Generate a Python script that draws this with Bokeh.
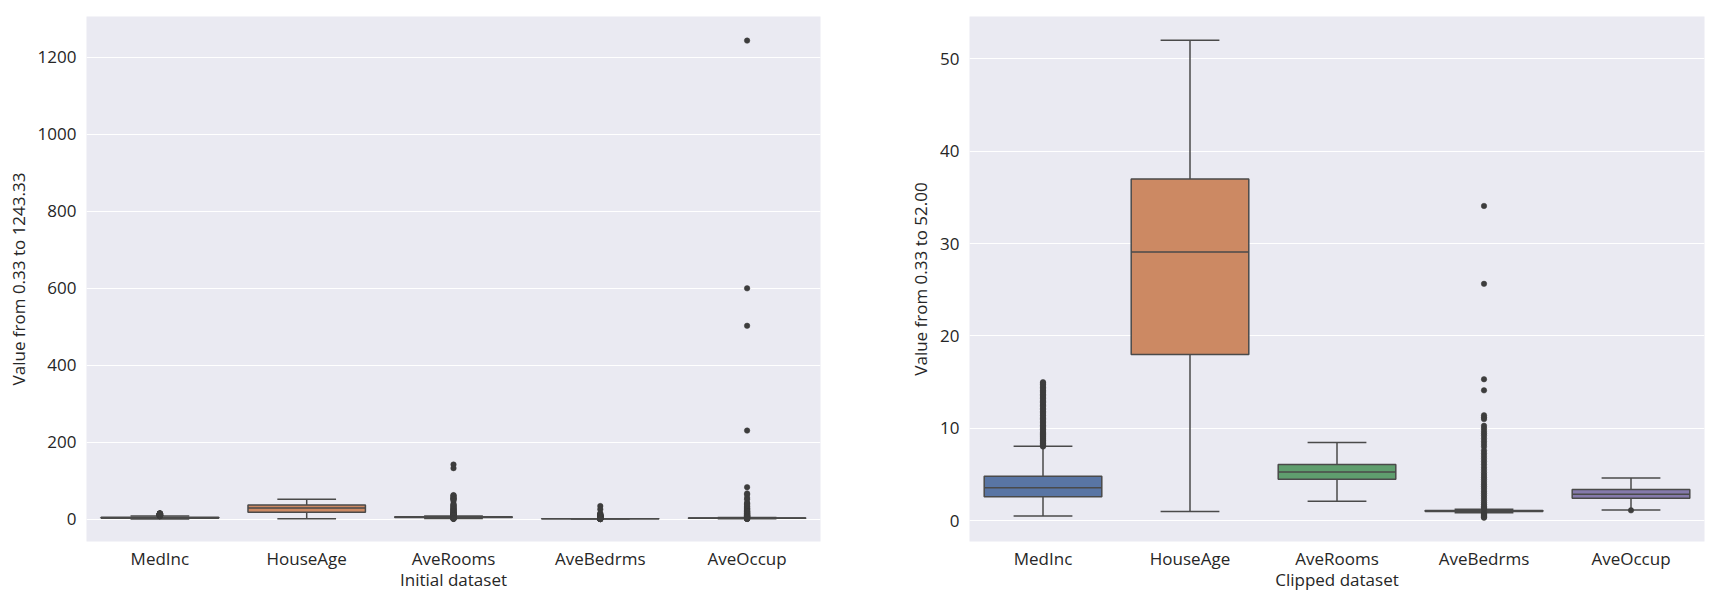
from bokeh.plotting import figure
from bokeh.layouts import row
from bokeh.models import Range1d, ColumnDataSource, FixedTicker
from bokeh.embed import file_html
from bokeh.resources import INLINE

categories = ["MedInc", "HouseAge", "AveRooms", "AveBedrms", "AveOccup"]
box_colors = ["#5975A4", "#CC8963", "#5F9E6E", "#B55D60", "#857AAB"]

# ---- Initial dataset (left panel) ----
init_q1 = [2.56, 18.0, 4.44, 1.006, 2.43]
init_med = [3.53, 29.0, 5.23, 1.049, 2.82]
init_q3 = [4.74, 37.0, 6.05, 1.100, 3.28]
init_lo = [0.50, 1.0, 2.03, 0.87, 1.16]
init_hi = [8.01, 52.0, 8.47, 1.24, 4.56]

medinc_fliers = [8.03, 8.12, 8.21, 8.33, 8.41, 8.52, 8.64, 8.73, 8.85, 8.96, 9.08, 9.19, 9.33, 9.46,
                 9.58, 9.71, 9.87, 10.02, 10.16, 10.31, 10.47, 10.6, 10.78, 10.93, 11.07, 11.22,
                 11.39, 11.55, 11.68, 11.84, 12.02, 12.15, 12.33, 12.47, 12.62, 12.79, 12.91,
                 13.06, 13.24, 13.38, 13.52, 13.67, 13.83, 13.95, 14.12, 14.27, 14.42, 14.58,
                 14.73, 14.9, 15.0]
averooms_fliers_init = [141.91, 132.53, 62.42, 61.81, 59.88, 56.27, 55.22, 52.85, 52.69, 50.84,
                        47.52, 39.76, 37.06, 36.08, 34.07, 32.0, 29.85, 28.76, 27.1, 25.64,
                        24.5, 22.9, 21.6, 20.1, 19.2, 18.3, 17.4, 16.1, 15.3, 14.5, 13.7,
                        12.9, 12.2, 11.6, 11.1, 10.6, 10.1, 9.7, 9.3, 8.9, 8.6,
                        1.99, 1.8, 1.55, 1.3, 1.13, 0.85]
avebedrms_fliers = [34.07, 25.64, 15.31, 14.11, 11.41, 11.18, 11.0, 10.27, 10.0, 9.7, 9.45, 9.2,
                    8.9, 8.6, 8.3, 8.0, 7.6, 7.3, 7.0, 6.7, 6.4, 6.1, 5.8, 5.5, 5.2, 4.95,
                    4.7, 4.45, 4.2, 3.95, 3.7, 3.45, 3.2, 2.95, 2.7, 2.45, 2.2, 1.95, 1.75,
                    1.55, 1.4, 1.28, 0.84, 0.75, 0.66, 0.57, 0.48, 0.4, 0.33]
aveoccup_fliers_init = [1243.33, 599.71, 502.46, 230.17, 83.17, 67.0, 63.75, 55.22, 51.4, 42.0,
                        41.2, 37.9, 34.4, 33.0, 29.9, 27.9, 26.5, 25.5, 23.1, 21.6, 20.1,
                        19.3, 18.4, 17.2, 16.1, 15.4, 14.5, 13.9, 12.6, 11.8, 10.7, 10.3,
                        9.8, 9.1, 8.5, 7.9, 7.3, 6.8, 6.2, 5.6, 5.1, 4.7,
                        1.1, 0.97, 0.75, 0.69]
init_fliers = [medinc_fliers, [], averooms_fliers_init, avebedrms_fliers, aveoccup_fliers_init]

# ---- Clipped dataset (right panel) ----
clip_q1 = [2.60, 18.0, 4.48, 1.006, 2.43]
clip_med = [3.57, 29.1, 5.27, 1.049, 2.87]
clip_q3 = [4.82, 37.0, 6.08, 1.100, 3.38]
clip_lo = [0.52, 1.0, 2.10, 0.87, 1.16]
clip_hi = [8.07, 52.0, 8.47, 1.24, 4.62]
clip_fliers = [medinc_fliers, [], [], avebedrms_fliers, [1.12]]

init_yticks = [0, 200, 400, 600, 800, 1000, 1200]
clip_yticks = [0, 10, 20, 30, 40, 50]

FONT = "Open Sans"
LINE = "#4a4a4a"


def make_panel(q1, med, q3, lo, hi, fliers, yr, yticks, xlabel, ylabel, bl, br, fw):
    p = figure(output_backend="svg", toolbar_location=None,
               frame_width=fw, frame_height=525,
               x_range=Range1d(-0.5, 4.5), y_range=Range1d(*yr),
               min_border_left=bl, min_border_right=br,
               min_border_top=16, min_border_bottom=41,
               background_fill_color="#EAEAF2", border_fill_color="white")
    p.outline_line_color = None
    xs = list(range(len(categories)))
    src = ColumnDataSource(dict(
        x=xs, q1=q1, med=med, q3=q3, lo=lo, hi=hi, color=box_colors,
        bx0=[x - 0.4 for x in xs], bx1=[x + 0.4 for x in xs],
        cx0=[x - 0.2 for x in xs], cx1=[x + 0.2 for x in xs]))
    # whiskers
    p.segment(x0="x", y0="q3", x1="x", y1="hi", source=src, line_color=LINE, line_width=1.5)
    p.segment(x0="x", y0="lo", x1="x", y1="q1", source=src, line_color=LINE, line_width=1.5)
    # caps
    p.segment(x0="cx0", y0="hi", x1="cx1", y1="hi", source=src, line_color=LINE, line_width=1.5)
    p.segment(x0="cx0", y0="lo", x1="cx1", y1="lo", source=src, line_color=LINE, line_width=1.5)
    # boxes
    p.vbar(x="x", width=0.8, bottom="q1", top="q3", source=src, fill_color="color",
           line_color=LINE, line_width=1.5)
    # medians
    p.segment(x0="bx0", y0="med", x1="bx1", y1="med", source=src, line_color=LINE, line_width=1.5)
    # fliers
    fx, fy = [], []
    for i, vals in enumerate(fliers):
        for v in vals:
            fx.append(i)
            fy.append(v)
    p.scatter(x=fx, y=fy, size=5.5, marker="circle", fill_color="#3d3d3d",
              line_color="#3d3d3d", line_width=0.5)

    p.xgrid.grid_line_color = None
    p.ygrid.grid_line_color = "white"
    p.ygrid.grid_line_width = 1.2
    p.yaxis.ticker = FixedTicker(ticks=yticks)
    p.xaxis.ticker = FixedTicker(ticks=xs)
    p.xaxis.major_label_overrides = {i: c for i, c in enumerate(categories)}

    for ax in (p.xaxis[0], p.yaxis[0]):
        ax.axis_line_color = None
        ax.major_tick_line_color = None
        ax.minor_tick_line_color = None
        ax.major_tick_out = 0
        ax.minor_tick_out = 0
        ax.major_label_text_font = FONT
        ax.major_label_text_font_size = "17px"
        ax.major_label_text_color = "#262626"
        ax.axis_label_text_font = FONT
        ax.axis_label_text_font_size = "17px"
        ax.axis_label_text_font_style = "normal"
        ax.axis_label_text_color = "#262626"
    p.xaxis.axis_label = xlabel
    p.yaxis.axis_label = ylabel
    p.yaxis.major_label_standoff = 10
    p.yaxis.axis_label_standoff = 5
    p.xaxis.major_label_standoff = 5
    p.xaxis.axis_label_standoff = -5
    return p


left = make_panel(init_q1, init_med, init_q3, init_lo, init_hi, init_fliers,
                  (-58, 1306), init_yticks, "Initial dataset", "Value from 0.33 to 1243.33",
                  86, 75, 734)
right = make_panel(clip_q1, clip_med, clip_q3, clip_lo, clip_hi, clip_fliers,
                   (-2.25, 54.58), clip_yticks, "Clipped dataset", "Value from 0.33 to 52.00",
                   74, 15, 735)

layout = row(left, right)
open("out.html", "w").write(file_html(layout, INLINE))
